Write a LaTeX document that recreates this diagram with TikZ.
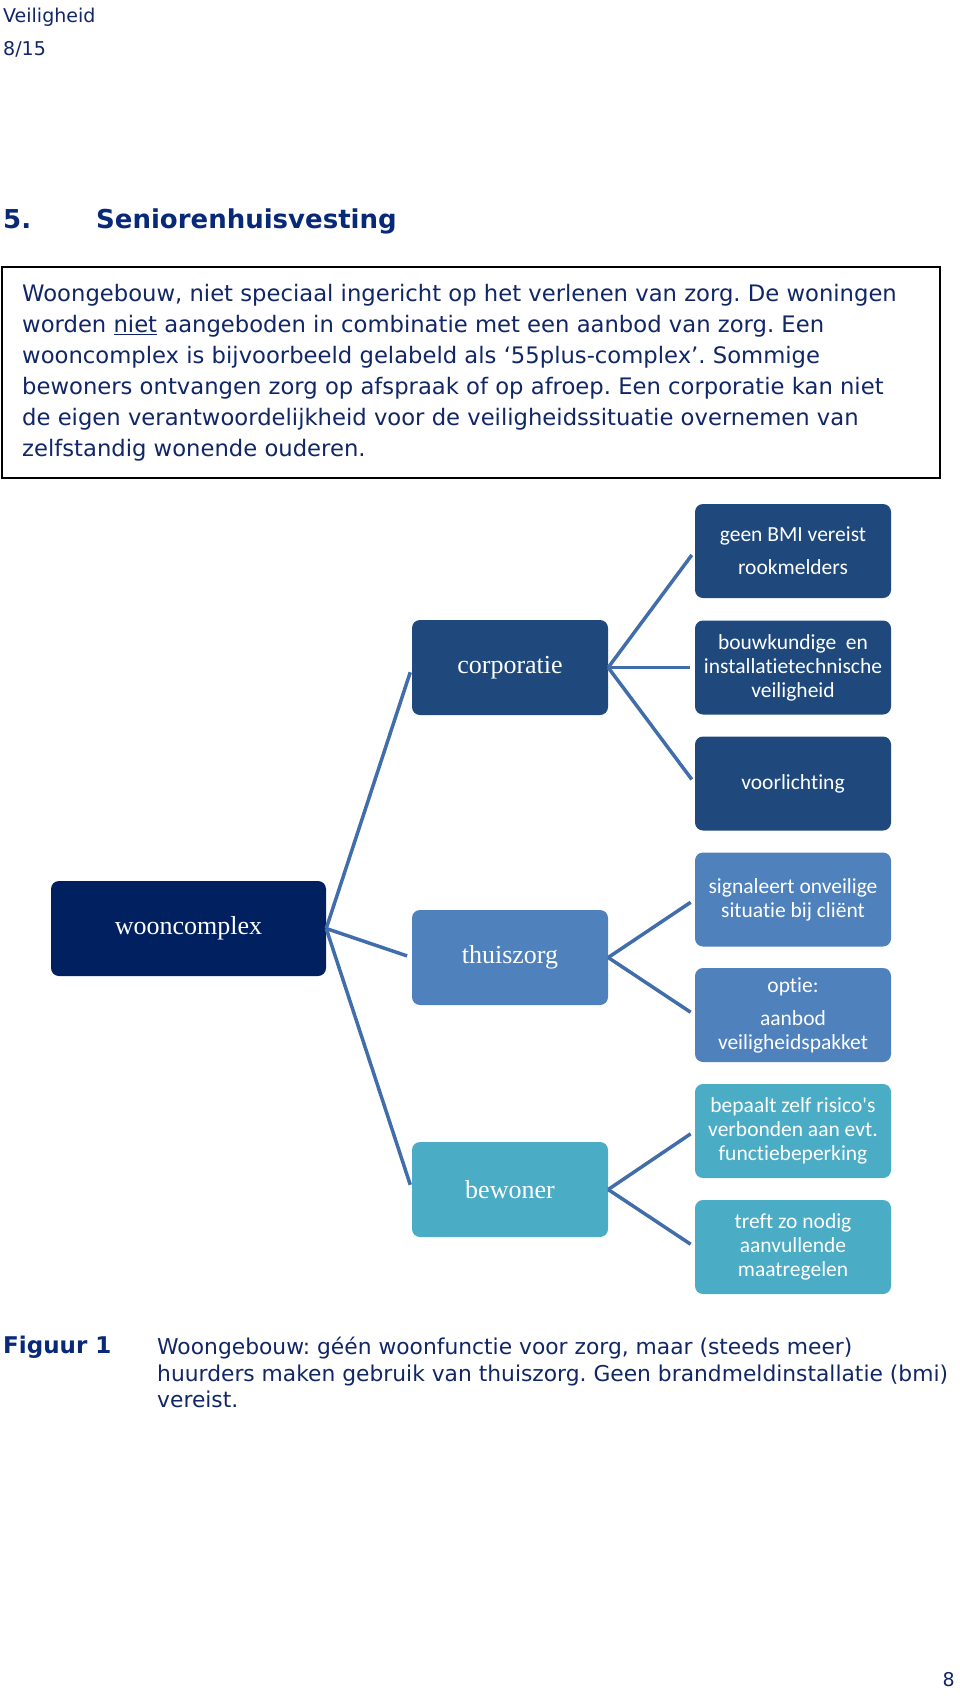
\documentclass[tikz,border=0pt]{standalone}
\usepackage{fontspec}
\setmainfont{DejaVu Sans}
\newfontfamily\calibri[Ligatures=NoCommon]{Carlito}
\newfontfamily\romein{Liberation Serif}
\usetikzlibrary{positioning}
\frenchspacing
\definecolor{donkerblauw}{RGB}{0, 32, 96}
\definecolor{corpblauw}{RGB}{31, 73, 125}
\definecolor{zorgblauw}{RGB}{79, 129, 189}
\definecolor{turkoois}{RGB}{75, 172, 198}
\definecolor{lijnblauw}{RGB}{65, 110, 170}
\definecolor{tekst}{RGB}{17, 38, 102}
\definecolor{kop}{RGB}{8, 40, 120}
\tikzset{
    wortel/.style={rectangle, rounded corners=8pt, fill=donkerblauw, text=white, minimum width=275pt, minimum height=95pt, font=\romein\fontsize{26}{30}\selectfont},
    tak/.style={rectangle, rounded corners=8pt, text=white, minimum width=196pt, minimum height=95pt, font=\romein\fontsize{26}{30}\selectfont},
    blad/.style={rectangle, rounded corners=8pt, text=white, minimum width=196pt, minimum height=94pt, align=center, font=\calibri\fontsize{21.5}{24}\selectfont},
    conn/.style={-, lijnblauw, line width=3.5pt, shorten >=5pt},
    doc/.style={inner sep=0pt, text=tekst},
}

\begin{document}
\begin{tikzpicture}[x=1pt, y=-1pt]
    \useasboundingbox (0,0) rectangle (960,1702);

    % kop van de pagina
    \node[doc, anchor=base west, font=\fontsize{19}{22}\selectfont] (rubriek) at (3,23) {Veiligheid};
    \node[doc, anchor=base west, font=\fontsize{19}{22}\selectfont] (pagina) at (3,56) {8/15};
    \node[doc, anchor=base west, text=kop, font=\bfseries\fontsize{26}{30}\selectfont] (nummer) at (3,228) {5.};
    \node[doc, anchor=base west, text=kop, font=\bfseries\fontsize{26}{30}\selectfont] (titel) at (96,228) {Seniorenhuisvesting};

    % kader met toelichting
    \draw[line width=2pt] (2,267) rectangle (940,478);
    \node[doc, anchor=north west, align=left, font=\fontsize{22.7}{31}\selectfont] (intro) at (22,284) {Woongebouw, niet speciaal ingericht op het verlenen van zorg. De woningen\\
        worden \underline{niet} aangeboden in combinatie met een aanbod van zorg. Een\\
        wooncomplex is bijvoorbeeld gelabeld als ‘55plus-complex’. Sommige\\
        bewoners ontvangen zorg op afspraak of op afroep. Een corporatie kan niet\\
        de eigen verantwoordelijkheid voor de veiligheidssituatie overnemen van\\
        zelfstandig wonende ouderen.};

    % hierarchie
    \node[wortel] (wc) at (188.5,928.5) {wooncomplex};
    \node[tak, fill=corpblauw] (corp) at (510,667.5) {corporatie};
    \node[tak, fill=zorgblauw] (zorg) at (510,957.5) {thuiszorg};
    \node[tak, fill=turkoois] (bew) at (510,1189.5) {bewoner};

    \node[blad, fill=corpblauw] (corp1) at (793,551) {geen BMI vereist\\[9pt]rookmelders};
    \node[blad, fill=corpblauw] (corp2) at (793,667.5) {bouwkundige\ \ en\\installatietechnische\\veiligheid};
    \node[blad, fill=corpblauw] (corp3) at (793,783.5) {voorlichting};
    \node[blad, fill=zorgblauw] (zorg1) at (793,899.5) {signaleert onveilige\\situatie bij cliënt};
    \node[blad, fill=zorgblauw] (zorg2) at (793,1015) {optie:\\[9pt]aanbod\\veiligheidspakket};
    \node[blad, fill=turkoois] (bew1) at (793,1131) {bepaalt zelf risico's\\verbonden aan evt.\\functiebeperking};
    \node[blad, fill=turkoois] (bew2) at (793,1247) {treft zo nodig\\aanvullende\\maatregelen};

    \draw[conn] (wc.east) -- (corp.west);
    \draw[conn] (wc.east) -- (zorg.west);
    \draw[conn] (wc.east) -- (bew.west);

    \draw[conn] (corp.east) -- (corp1.west);
    \draw[conn] (corp.east) -- (corp2.west);
    \draw[conn] (corp.east) -- (corp3.west);

    \draw[conn] (zorg.east) -- (zorg1.west);
    \draw[conn] (zorg.east) -- (zorg2.west);

    \draw[conn] (bew.east) -- (bew1.west);
    \draw[conn] (bew.east) -- (bew2.west);

    % onderschrift
    \node[doc, anchor=base west, text=kop, font=\bfseries\fontsize{23}{26.5}\selectfont] (figuur) at (3,1353) {Figuur 1};
    \node[doc, anchor=north west, align=left, font=\fontsize{21.8}{26.5}\selectfont] (onderschrift) at (157,1337) {Woongebouw: géén woonfunctie voor zorg, maar (steeds meer)\\
        huurders maken gebruik van thuiszorg. Geen brandmeldinstallatie (bmi)\\
        vereist.};
    \node[doc, anchor=base east, font=\fontsize{19}{22}\selectfont] (paginanr) at (955,1686) {8};
\end{tikzpicture}
\end{document}
